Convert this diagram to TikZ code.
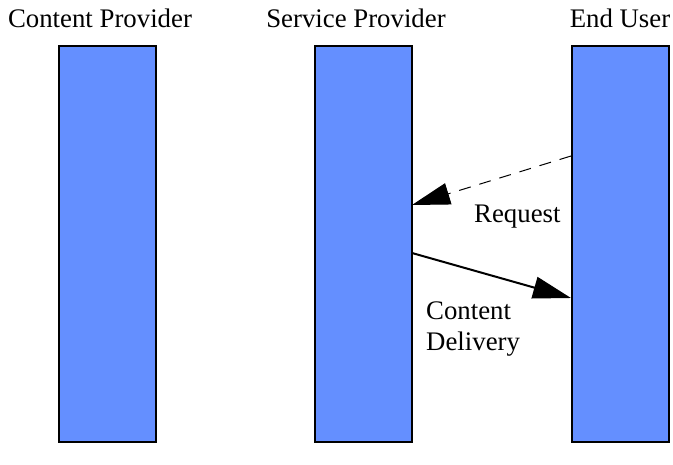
\documentclass[tikz,border=0pt]{standalone}
\usepackage{fontspec}
\setmainfont{Liberation Serif}
\usetikzlibrary{arrows.meta}
\definecolor{barblue}{RGB}{100,143,255}
\begin{document}
\begin{tikzpicture}[x=1pt,y=-1pt,
  bar/.style={draw=black,line width=2pt,fill=barblue,minimum width=97pt,minimum height=396pt,inner sep=0pt,anchor=north west},
  title/.style={font=\fontsize{26.8}{30}\selectfont,inner sep=0pt,anchor=base},
  lbl/.style={font=\fontsize{26.8}{31}\selectfont,inner sep=0pt,anchor=base west,align=left},
  tip/.style={-{Triangle[length=38pt,width=22pt]}}]
\useasboundingbox (0,0) rectangle (673,464);
\node[bar] (cp) at (58,45) {};
\node[bar] (sp) at (314,45) {};
\node[bar] (eu) at (571,45) {};
\node[title] (tcp) at (100,27) {Content Provider};
\node[title] (tsp) at (356,27) {Service Provider};
\node[title] (teu) at (620,27) {End User};
\coordinate (r1) at (571,156);
\coordinate (r2) at (412,205);
\coordinate (d1) at (412,253);
\coordinate (d2) at (571,298);
\draw[tip,dashed,dash pattern=on 12pt off 9pt,line width=1pt] (r1) -- (r2);
\draw[tip,line width=2pt] (d1) -- (d2);
\node[lbl] (lreq) at (474,222) {Request};
\node[lbl] (ldel) at (426,350) {Content\\Delivery};
\end{tikzpicture}
\end{document}
